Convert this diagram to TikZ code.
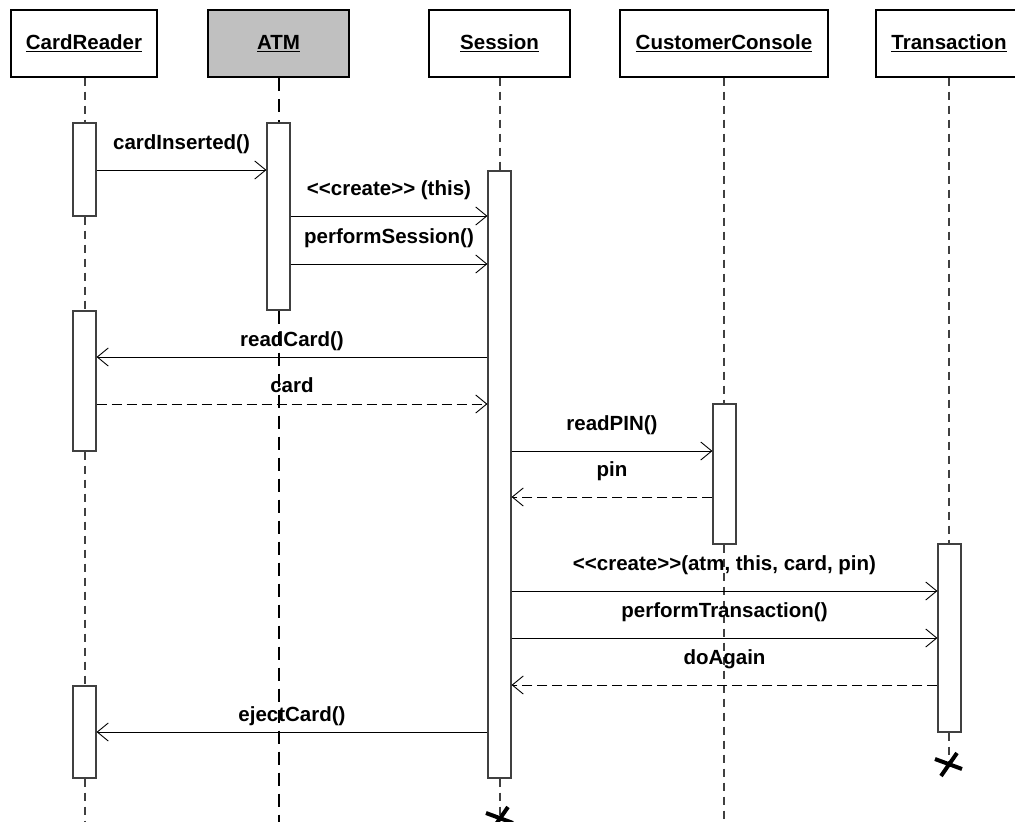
\documentclass[tikz,border=0pt]{standalone}
\usepackage{fontspec}
\setmainfont{Liberation Sans}
\usepackage{tikz}
\usetikzlibrary{arrows.meta}
\definecolor{headgray}{HTML}{C0C0C0}
\definecolor{linegray}{HTML}{404040}
\tikzset{
  head/.style={draw=black,line width=1.1pt,fill=white,minimum height=67pt,inner sep=0pt,font=\bfseries\fontsize{20.5}{24}\selectfont},
  headx/.style={head,fill=headgray,line width=2pt},
  act/.style={draw=linegray,line width=1.1pt,fill=white,minimum width=23pt,inner sep=0pt},
  life/.style={linegray,line width=1.1pt,dash pattern=on 8pt off 6pt},
  lifex/.style={black,line width=2.2pt,dash pattern=on 13pt off 8pt},
  msg/.style={-{Straight Barb[length=11pt,width=18pt,line width=0.9pt]},line width=1pt,black},
  ret/.style={msg,dash pattern=on 10pt off 5pt},
  lbl/.style={midway,anchor=base,yshift=21pt,font=\bfseries\fontsize{20.5}{24}\selectfont},
  xmark/.style={line width=4pt,black}
}

\begin{document}
\begin{tikzpicture}[x=1pt,y=-1pt]
\useasboundingbox (0,0) rectangle (1015,822);
\clip (0,0) rectangle (1015,822);
% heads
\node[head,minimum width=146pt] (cr) at (84,43.5) {\underline{CardReader}};
\node[headx,minimum width=141pt] (atm) at (278.5,43.5) {\underline{ATM}};
\node[head,minimum width=141pt] (ses) at (499.5,43.5) {\underline{Session}};
\node[head,minimum width=208pt] (cc) at (724,43.5) {\underline{CustomerConsole}};
\node[head,minimum width=146pt] (tr) at (949,43.5) {\underline{Transaction}};
% end points of the lifelines
\coordinate (crend) at (85,830);
\coordinate (atmend) at (279,830);
\coordinate (ccend) at (724,830);
\coordinate (sesx) at (500,818);
\coordinate (trx) at (949,764);
% activations
\node[act,minimum height=93pt] (cr1) at (84.5,169.5) {};
\node[act,minimum height=187pt] (atm1) at (278.5,216.5) {};
\node[act,minimum height=607pt] (ses1) at (499.5,474.5) {};
\node[act,minimum height=140pt] (cr2) at (84.5,381) {};
\node[act,minimum height=140pt] (cc1) at (724.5,474) {};
\node[act,minimum height=188pt] (tr1) at (949.5,638) {};
\node[act,minimum height=92pt] (cr3) at (84.5,732) {};
% lifelines
\draw[life] (cr.south -| crend) -- (cr1.north -| crend)
  (cr1.south -| crend) -- (cr2.north -| crend)
  (cr2.south -| crend) -- (cr3.north -| crend)
  (cr3.south -| crend) -- (crend);
\draw[lifex] (atm.south -| atmend) -- (atm1.north -| atmend)
  (atm1.south -| atmend) -- (atmend);
\draw[life] (ses.south -| sesx) -- (ses1.north -| sesx)
  (ses1.south -| sesx) -- (sesx);
\draw[life] (cc.south -| ccend) -- (cc1.north -| ccend)
  (cc1.south -| ccend) -- (ccend);
\draw[life] (tr.south -| trx) -- (tr1.north -| trx)
  (tr1.south -| trx) -- (trx);
% messages
\draw[msg] (cr1.east |- 0,170) -- node[lbl]{cardInserted()} (atm1.west |- 0,170);
\draw[msg] (atm1.east |- 0,216) -- node[lbl]{<{}<create>{}> (this)} (ses1.west |- 0,216);
\draw[msg] (atm1.east |- 0,264) -- node[lbl]{performSession()} (ses1.west |- 0,264);
\draw[msg] (ses1.west |- 0,357) -- node[lbl,yshift=-10pt]{readCard()} (cr2.east |- 0,357);
\draw[ret] (cr2.east |- 0,404) -- node[lbl,yshift=-9pt]{card} (ses1.west |- 0,404);
\draw[msg] (ses1.east |- 0,451) -- node[lbl]{readPIN()} (cc1.west |- 0,451);
\draw[ret] (cc1.west |- 0,497) -- node[lbl]{pin} (ses1.east |- 0,497);
\draw[msg] (ses1.east |- 0,591) -- node[lbl]{<{}<create>{}>(atm, this, card, pin)} (tr1.west |- 0,591);
\draw[msg] (ses1.east |- 0,638) -- node[lbl]{performTransaction()} (tr1.west |- 0,638);
\draw[ret] (tr1.west |- 0,685) -- node[lbl]{doAgain} (ses1.east |- 0,685);
\draw[msg] (ses1.west |- 0,732) -- node[lbl,yshift=-10pt]{ejectCard()} (cr3.east |- 0,732);
% destruction
\draw[xmark,shift={(trx)}] (-14,-5) -- (13,5) (8,-11) -- (-8,12);
\draw[xmark,shift={(sesx)}] (-14,-5) -- (13,5) (8,-11) -- (-8,12);
\end{tikzpicture}
\end{document}
